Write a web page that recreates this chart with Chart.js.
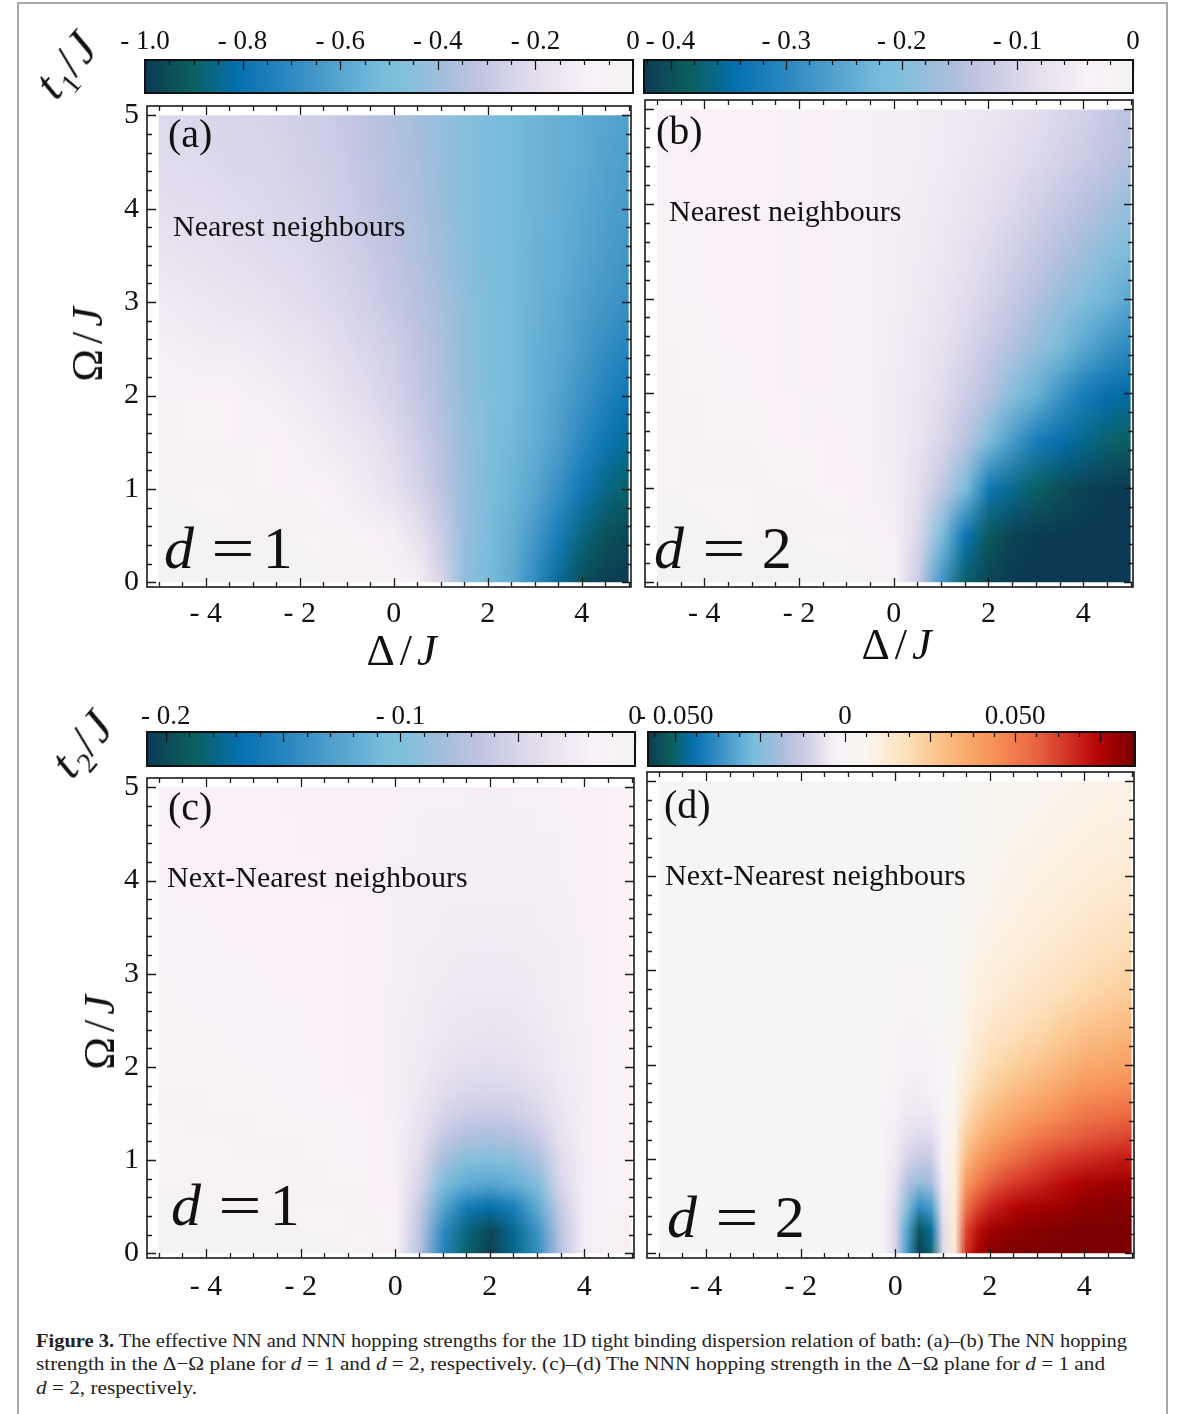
<!DOCTYPE html>
<html>
<head>
<meta charset="utf-8">
<title>Effective NN and NNN hopping strengths</title>
<script src="https://cdn.jsdelivr.net/npm/chart.js@4.4.1/dist/chart.umd.min.js"></script>
<style>
  body { margin: 0; background: #fff; }
  #fig { position: relative; width: 1182px; height: 1414px; overflow: hidden;
         font-family: 'Liberation Serif', 'Times New Roman', serif; color: #111; }
  #border { position: absolute; left: 17px; top: 2px; width: 1147px; height: 1430px;
            border: 2px solid #a8a8a8; }
  .t { position: absolute; white-space: nowrap; line-height: 1; transform: translateY(-50%); }
  .c { position: absolute; white-space: nowrap; line-height: 1; transform: translate(-50%, -50%); }
  .v { transform: translate(-50%, -50%) rotate(-90deg); }
  .d45 { transform: translate(-50%, -50%) rotate(-50deg); }
  .sym { font-size: 44px; letter-spacing: 5px; }
  sub { font-size: 0.6em; vertical-align: -0.3em; letter-spacing: 0; }
  .eq { display: inline-block; transform: scaleX(1.28); }
  .eq1 { margin: 0 13px 0 22px; }
  .eq2 { margin: 0 21px 0 23px; }
  .cap { position: absolute; left: 36px; font-size: 19px; line-height: 1; white-space: nowrap;
         transform-origin: 0 50%; color: #222; }
</style>
</head>
<body>
<div id="fig">
  <div id="border"></div>
  <div id="plots"></div>

  <div class="c d45 sym" style="left:69px;top:66px;font-size:48px;letter-spacing:3px"><i>t</i><sub>1</sub>/<i>J</i></div>
  <div class="c d45 sym" style="left:85px;top:745px;font-size:48px;letter-spacing:3px"><i>t</i><sub>2</sub>/<i>J</i></div>

  <div class="c v sym" style="left:88px;top:342px">Ω/<i>J</i></div>
  <div class="c v sym" style="left:100px;top:1030px">Ω/<i>J</i></div>
  <div class="c sym" style="left:404px;top:651px">Δ/<i>J</i></div>
  <div class="c sym" style="left:899px;top:645px">Δ/<i>J</i></div>

  <div class="t" style="left:168px;top:134px;font-size:40px">(a)</div>
  <div class="t" style="left:656px;top:131px;font-size:40px">(b)</div>
  <div class="t" style="left:168px;top:807px;font-size:40px">(c)</div>
  <div class="t" style="left:664px;top:805px;font-size:40px">(d)</div>

  <div class="t" style="left:173px;top:226px;font-size:30px">Nearest neighbours</div>
  <div class="t" style="left:669px;top:211px;font-size:30px">Nearest neighbours</div>
  <div class="t" style="left:167px;top:877px;font-size:30px">Next-Nearest neighbours</div>
  <div class="t" style="left:665px;top:875px;font-size:30px">Next-Nearest neighbours</div>

  <div class="t" style="left:164px;top:548px;font-size:60px"><i>d</i><span class="eq eq1">=</span>1</div>
  <div class="t" style="left:654px;top:548px;font-size:60px"><i>d</i><span class="eq eq2">=</span>2</div>
  <div class="t" style="left:171px;top:1205px;font-size:60px"><i>d</i><span class="eq eq1">=</span>1</div>
  <div class="t" style="left:667px;top:1217px;font-size:60px"><i>d</i><span class="eq eq2">=</span>2</div>

  <div class="cap" data-w="1091" style="top:1340px"><b>Figure 3.</b> The effective NN and NNN hopping strengths for the 1D tight binding dispersion relation of bath: (a)–(b) The NN hopping</div>
  <div class="cap" data-w="1069" style="top:1363px">strength in the Δ−Ω plane for <i>d</i> = 1 and <i>d</i> = 2, respectively. (c)–(d) The NNN hopping strength in the Δ−Ω plane for <i>d</i> = 1 and</div>
  <div class="cap" data-w="161" style="top:1387px"><i>d</i> = 2, respectively.</div>
</div>

<script>
// sample grid: detuning Δ/J across, Rabi frequency Ω/J up
const deltaCoarse = [-5,-4.5,-4,-3.5,-3,-2.5,-2,-1.5,-1,-0.5,0,0.5,1,1.5,2,2.5,3,3.5,4,4.5,5];
const deltaFine = [-5,-4.75,-4.5,-4.25,-4,-3.75,-3.5,-3.25,-3,-2.75,-2.5,-2.25,-2,-1.75,-1.5,-1.25,-1,-0.75,-0.5,-0.25,
                   0,0.25,0.5,0.75,1,1.25,1.5,1.75,2,2.25,2.5,2.75,3,3.25,3.5,3.75,4,4.25,4.5,4.75,5];
const omegaCoarse = [0,0.5,1,1.5,2,2.5,3,3.5,4,4.5,5];
const omegaFine = [0,0.25,0.5,0.75,1,1.25,1.5,1.75,2,2.25,2.5,2.75,3,3.25,3.5,3.75,4,4.25,4.5,4.75,5];

const deltaTicks = [-4,-2,0,2,4];
const omegaTicks = [0,1,2,3,4,5];

// colour-key ranges and labelled values
const rangeA = [-1.0, 0];
const rangeB = [-0.423, 0];
const rangeC = [-0.208, 0];
const rangeD = [-0.058, 0.0853];
const keyTicksA = [-1.0,-0.8,-0.6,-0.4,-0.2,0];
const keyTicksB = [-0.4,-0.3,-0.2,-0.1,0];
const keyTicksC = [-0.2,-0.1,0];
const keyTicksD = [-0.05,0,0.05];

// (a) t1/J, d = 1 — one row per Ω/J in omegaCoarse
const t1d1 = [
  [-0.02,-0.02,-0.02,-0.02,-0.02,-0.03,-0.03,-0.03,-0.04,-0.04,-0.05,-0.1,-0.24,-0.44,-0.51,-0.58,-0.7,-0.84,-0.95,-0.99,-1.0],
  [-0.03,-0.03,-0.03,-0.03,-0.04,-0.04,-0.05,-0.06,-0.07,-0.09,-0.11,-0.17,-0.28,-0.42,-0.5,-0.56,-0.65,-0.76,-0.87,-0.94,-0.97],
  [-0.05,-0.05,-0.06,-0.06,-0.07,-0.07,-0.08,-0.09,-0.11,-0.14,-0.18,-0.24,-0.32,-0.42,-0.49,-0.54,-0.6,-0.68,-0.78,-0.86,-0.9],
  [-0.06,-0.07,-0.07,-0.08,-0.08,-0.09,-0.1,-0.12,-0.14,-0.17,-0.21,-0.27,-0.34,-0.42,-0.48,-0.53,-0.57,-0.63,-0.71,-0.79,-0.84],
  [-0.08,-0.08,-0.09,-0.09,-0.1,-0.11,-0.13,-0.15,-0.18,-0.21,-0.25,-0.3,-0.36,-0.43,-0.48,-0.52,-0.56,-0.61,-0.67,-0.73,-0.79],
  [-0.1,-0.11,-0.12,-0.12,-0.13,-0.15,-0.16,-0.18,-0.21,-0.24,-0.27,-0.32,-0.37,-0.44,-0.49,-0.52,-0.56,-0.59,-0.64,-0.69,-0.73],
  [-0.13,-0.14,-0.15,-0.16,-0.17,-0.18,-0.2,-0.22,-0.24,-0.27,-0.3,-0.34,-0.38,-0.44,-0.49,-0.52,-0.55,-0.58,-0.62,-0.65,-0.68],
  [-0.16,-0.17,-0.18,-0.19,-0.2,-0.21,-0.22,-0.24,-0.26,-0.29,-0.32,-0.36,-0.4,-0.45,-0.5,-0.52,-0.55,-0.57,-0.6,-0.63,-0.66],
  [-0.19,-0.2,-0.2,-0.21,-0.22,-0.23,-0.24,-0.26,-0.28,-0.31,-0.34,-0.37,-0.41,-0.46,-0.5,-0.52,-0.54,-0.56,-0.59,-0.62,-0.64],
  [-0.21,-0.21,-0.22,-0.23,-0.23,-0.24,-0.26,-0.27,-0.29,-0.32,-0.35,-0.38,-0.42,-0.46,-0.5,-0.52,-0.54,-0.56,-0.58,-0.61,-0.63],
  [-0.22,-0.22,-0.23,-0.23,-0.24,-0.25,-0.27,-0.28,-0.3,-0.33,-0.36,-0.39,-0.42,-0.46,-0.5,-0.52,-0.54,-0.56,-0.58,-0.6,-0.62]
];

// (b) t1/J, d = 2 — rows over omegaCoarse
const t1d2 = [
  [-0.002,-0.002,-0.002,-0.003,-0.003,-0.004,-0.004,-0.005,-0.007,-0.012,-0.035,-0.12,-0.28,-0.38,-0.415,-0.423,-0.423,-0.423,-0.423,-0.423,-0.423],
  [-0.01,-0.012,-0.014,-0.016,-0.018,-0.02,-0.022,-0.025,-0.028,-0.033,-0.043,-0.095,-0.21,-0.335,-0.39,-0.414,-0.421,-0.423,-0.423,-0.423,-0.423],
  [-0.02,-0.022,-0.024,-0.026,-0.028,-0.03,-0.033,-0.035,-0.038,-0.042,-0.05,-0.08,-0.13,-0.21,-0.33,-0.36,-0.38,-0.4,-0.415,-0.421,-0.423],
  [-0.025,-0.027,-0.029,-0.031,-0.033,-0.035,-0.037,-0.039,-0.041,-0.043,-0.052,-0.07,-0.1,-0.14,-0.21,-0.27,-0.32,-0.345,-0.36,-0.375,-0.385],
  [-0.028,-0.03,-0.032,-0.034,-0.036,-0.038,-0.039,-0.04,-0.042,-0.044,-0.052,-0.066,-0.085,-0.115,-0.145,-0.195,-0.235,-0.28,-0.32,-0.343,-0.352],
  [-0.03,-0.032,-0.034,-0.036,-0.037,-0.039,-0.04,-0.041,-0.042,-0.044,-0.05,-0.06,-0.076,-0.098,-0.124,-0.15,-0.18,-0.215,-0.25,-0.28,-0.3],
  [-0.032,-0.034,-0.035,-0.037,-0.038,-0.039,-0.04,-0.041,-0.042,-0.043,-0.048,-0.056,-0.07,-0.086,-0.104,-0.126,-0.15,-0.175,-0.2,-0.228,-0.253],
  [-0.033,-0.034,-0.036,-0.037,-0.038,-0.039,-0.04,-0.041,-0.042,-0.043,-0.047,-0.054,-0.064,-0.077,-0.092,-0.11,-0.128,-0.148,-0.168,-0.19,-0.21],
  [-0.034,-0.035,-0.036,-0.037,-0.038,-0.039,-0.04,-0.041,-0.042,-0.043,-0.046,-0.051,-0.059,-0.069,-0.081,-0.095,-0.11,-0.126,-0.143,-0.16,-0.178],
  [-0.034,-0.035,-0.036,-0.037,-0.038,-0.039,-0.04,-0.041,-0.042,-0.043,-0.045,-0.049,-0.055,-0.062,-0.071,-0.082,-0.094,-0.107,-0.12,-0.134,-0.15],
  [-0.035,-0.035,-0.036,-0.037,-0.038,-0.039,-0.04,-0.04,-0.041,-0.042,-0.044,-0.047,-0.052,-0.058,-0.065,-0.074,-0.084,-0.096,-0.11,-0.125,-0.142]
];

// (c) t2/J, d = 1 — rows over omegaFine, columns over deltaCoarse
const t2d1 = [
  [-0.002,-0.002,-0.003,-0.003,-0.004,-0.004,-0.005,-0.006,-0.008,-0.011,-0.017,-0.07,-0.15,-0.185,-0.205,-0.178,-0.143,-0.068,-0.022,-0.015,-0.013],
  [-0.004,-0.004,-0.005,-0.005,-0.006,-0.007,-0.008,-0.009,-0.011,-0.013,-0.018,-0.066,-0.145,-0.18,-0.2,-0.175,-0.138,-0.065,-0.022,-0.016,-0.014],
  [-0.007,-0.007,-0.008,-0.009,-0.01,-0.011,-0.012,-0.013,-0.014,-0.016,-0.019,-0.06,-0.125,-0.16,-0.17,-0.155,-0.12,-0.058,-0.022,-0.017,-0.015],
  [-0.009,-0.01,-0.011,-0.012,-0.012,-0.013,-0.014,-0.015,-0.016,-0.017,-0.02,-0.05,-0.1,-0.12,-0.125,-0.118,-0.098,-0.048,-0.022,-0.017,-0.016],
  [-0.011,-0.012,-0.013,-0.013,-0.014,-0.014,-0.015,-0.016,-0.017,-0.018,-0.021,-0.043,-0.08,-0.097,-0.1,-0.095,-0.078,-0.042,-0.022,-0.018,-0.016],
  [-0.013,-0.013,-0.014,-0.014,-0.015,-0.015,-0.016,-0.016,-0.017,-0.019,-0.021,-0.037,-0.062,-0.075,-0.078,-0.074,-0.06,-0.036,-0.022,-0.018,-0.017],
  [-0.014,-0.014,-0.015,-0.015,-0.016,-0.016,-0.017,-0.017,-0.018,-0.019,-0.022,-0.033,-0.05,-0.058,-0.06,-0.057,-0.048,-0.032,-0.022,-0.018,-0.017],
  [-0.015,-0.015,-0.016,-0.016,-0.016,-0.017,-0.017,-0.018,-0.018,-0.019,-0.022,-0.03,-0.042,-0.048,-0.049,-0.047,-0.04,-0.029,-0.022,-0.018,-0.017],
  [-0.016,-0.016,-0.016,-0.016,-0.017,-0.017,-0.017,-0.018,-0.018,-0.02,-0.022,-0.028,-0.036,-0.04,-0.041,-0.039,-0.034,-0.027,-0.022,-0.019,-0.017],
  [-0.016,-0.016,-0.016,-0.017,-0.017,-0.017,-0.018,-0.018,-0.019,-0.02,-0.022,-0.027,-0.032,-0.035,-0.036,-0.035,-0.031,-0.026,-0.022,-0.019,-0.017],
  [-0.016,-0.016,-0.017,-0.017,-0.017,-0.017,-0.018,-0.018,-0.019,-0.02,-0.022,-0.026,-0.03,-0.032,-0.033,-0.032,-0.029,-0.025,-0.021,-0.019,-0.018],
  [-0.016,-0.017,-0.017,-0.017,-0.017,-0.018,-0.018,-0.018,-0.019,-0.02,-0.022,-0.025,-0.028,-0.03,-0.03,-0.03,-0.027,-0.024,-0.021,-0.019,-0.018],
  [-0.017,-0.017,-0.017,-0.017,-0.018,-0.018,-0.018,-0.019,-0.019,-0.02,-0.021,-0.024,-0.026,-0.028,-0.028,-0.028,-0.026,-0.023,-0.021,-0.019,-0.018],
  [-0.017,-0.017,-0.017,-0.018,-0.018,-0.018,-0.018,-0.019,-0.019,-0.02,-0.021,-0.023,-0.025,-0.026,-0.027,-0.026,-0.025,-0.023,-0.021,-0.019,-0.018],
  [-0.017,-0.017,-0.018,-0.018,-0.018,-0.018,-0.019,-0.019,-0.019,-0.02,-0.021,-0.022,-0.024,-0.025,-0.025,-0.025,-0.024,-0.022,-0.02,-0.019,-0.018],
  [-0.017,-0.018,-0.018,-0.018,-0.018,-0.018,-0.019,-0.019,-0.019,-0.02,-0.021,-0.022,-0.023,-0.024,-0.024,-0.024,-0.023,-0.022,-0.02,-0.019,-0.018],
  [-0.018,-0.018,-0.018,-0.018,-0.018,-0.019,-0.019,-0.019,-0.02,-0.02,-0.021,-0.022,-0.023,-0.023,-0.023,-0.023,-0.022,-0.021,-0.02,-0.019,-0.018],
  [-0.018,-0.018,-0.018,-0.018,-0.019,-0.019,-0.019,-0.019,-0.02,-0.02,-0.021,-0.021,-0.022,-0.022,-0.022,-0.022,-0.022,-0.021,-0.02,-0.019,-0.018],
  [-0.018,-0.018,-0.018,-0.019,-0.019,-0.019,-0.019,-0.02,-0.02,-0.02,-0.021,-0.021,-0.022,-0.022,-0.022,-0.022,-0.021,-0.021,-0.02,-0.019,-0.018],
  [-0.018,-0.018,-0.019,-0.019,-0.019,-0.019,-0.019,-0.02,-0.02,-0.02,-0.02,-0.021,-0.021,-0.021,-0.022,-0.021,-0.021,-0.02,-0.02,-0.019,-0.018],
  [-0.018,-0.019,-0.019,-0.019,-0.019,-0.019,-0.02,-0.02,-0.02,-0.02,-0.02,-0.021,-0.021,-0.021,-0.021,-0.021,-0.021,-0.02,-0.02,-0.019,-0.018]
];

// (d) t2/J, d = 2 — rows over omegaFine, columns over deltaFine
const t2d2 = [
  [0,0,0,0,0,0,0,0,0,0,0,0,0,0,0,0,0,0, 0,-0.002,-0.01,-0.035,-0.057,-0.05,-0.008, 0.012,0.066,0.078,0.083,0.084,0.085,0.085,0.085,0.085,0.085,0.085,0.085,0.085,0.085,0.085,0.085],
  [0,0,0,0,0,0,0,0,0,0,0,0,0,0,0,0,0,0, 0,-0.002,-0.01,-0.033,-0.053,-0.046,-0.008, 0.012,0.062,0.072,0.078,0.08,0.081,0.082,0.083,0.084,0.084,0.085,0.085,0.085,0.085,0.085,0.085],
  [0,0,0,0,0,0,0,0,0,0,0,0,0,0,0,0,0,0, -0.001,-0.002,-0.009,-0.025,-0.038,-0.034,-0.006, 0.012,0.052,0.062,0.068,0.071,0.074,0.076,0.077,0.078,0.079,0.08,0.082,0.082,0.083,0.083,0.083],
  [0,0,0,0,0,0,0,0,0,0,0,0,0,0,0,0,0,0, -0.001,-0.002,-0.007,-0.017,-0.022,-0.02,-0.004, 0.011,0.041,0.05,0.057,0.061,0.064,0.066,0.068,0.07,0.072,0.074,0.076,0.077,0.078,0.079,0.079],
  [0,0,0,0,0,0,0,0,0,0,0,0,0,0,0,0,0,0, -0.001,-0.002,-0.005,-0.01,-0.013,-0.012,-0.003, 0.01,0.031,0.04,0.046,0.05,0.054,0.057,0.06,0.062,0.064,0.065,0.067,0.068,0.069,0.07,0.07],
  [0,0,0,0,0,0,0,0,0,0,0,0,0,0,0,0,0,0, -0.001,-0.002,-0.004,-0.007,-0.008,-0.008,-0.002, 0.008,0.024,0.031,0.036,0.04,0.044,0.047,0.05,0.052,0.054,0.056,0.058,0.059,0.06,0.061,0.062],
  [0,0,0,0,0,0,0,0,0,0,0,0,0,0,0,0,0,0, -0.001,-0.002,-0.003,-0.005,-0.005,-0.005,-0.001, 0.006,0.018,0.025,0.029,0.032,0.035,0.038,0.04,0.043,0.045,0.048,0.05,0.051,0.052,0.053,0.054],
  [0,0,0,0,0,0,0,0,0,0,0,0,0,0,0,0,0,0, -0.001,-0.0015,-0.0025,-0.004,-0.004,-0.003,0, 0.005,0.014,0.019,0.023,0.026,0.029,0.031,0.033,0.035,0.037,0.04,0.042,0.043,0.044,0.045,0.046],
  [0,0,0,0,0,0,0,0,0,0,0,0,0,0,0,0,0,0, -0.001,-0.0015,-0.002,-0.003,-0.003,-0.003,0, 0.004,0.011,0.016,0.019,0.021,0.023,0.025,0.027,0.029,0.031,0.033,0.035,0.036,0.037,0.038,0.039],
  [0,0,0,0,0,0,0,0,0,0,0,0,0,0,0,0,0,0, -0.001,-0.001,-0.002,-0.0025,-0.0025,-0.002,0, 0.003,0.009,0.013,0.016,0.018,0.019,0.021,0.022,0.024,0.026,0.028,0.03,0.031,0.032,0.033,0.034],
  [0,0,0,0,0,0,0,0,0,0,0,0,0,0,0,0,0,0, -0.001,-0.001,-0.0015,-0.002,-0.002,-0.0015,0, 0.003,0.008,0.011,0.013,0.015,0.016,0.0175,0.019,0.02,0.022,0.0235,0.025,0.026,0.027,0.028,0.029],
  [0,0,0,0,0,0,0,0,0,0,0,0,0,0,0,0,0,0, 0,-0.001,-0.0015,-0.002,-0.002,-0.0015,0, 0.002,0.007,0.0095,0.011,0.0125,0.0135,0.015,0.016,0.017,0.018,0.0195,0.021,0.022,0.023,0.024,0.025],
  [0,0,0,0,0,0,0,0,0,0,0,0,0,0,0,0,0,0, 0,-0.001,-0.001,-0.0015,-0.0015,-0.001,0, 0.002,0.006,0.0085,0.01,0.011,0.012,0.013,0.014,0.015,0.016,0.017,0.018,0.019,0.02,0.021,0.022],
  [0,0,0,0,0,0,0,0,0,0,0,0,0,0,0,0,0,0, 0,0,-0.001,-0.001,-0.001,-0.001,0, 0.0015,0.0048,0.007,0.0085,0.0095,0.0102,0.011,0.012,0.013,0.014,0.015,0.016,0.017,0.0175,0.018,0.019],
  [0,0,0,0,0,0,0,0,0,0,0,0,0,0,0,0,0,0, 0,0,-0.001,-0.001,-0.001,-0.0005,0, 0.001,0.0042,0.0058,0.0072,0.0083,0.009,0.01,0.011,0.0115,0.0125,0.013,0.014,0.015,0.0155,0.016,0.017],
  [0,0,0,0,0,0,0,0,0,0,0,0,0,0,0,0,0,0, 0,0,-0.0005,-0.001,-0.001,-0.0005,0, 0.001,0.0037,0.005,0.0062,0.0074,0.008,0.0088,0.0095,0.01,0.011,0.0115,0.012,0.013,0.0135,0.014,0.015],
  [0,0,0,0,0,0,0,0,0,0,0,0,0,0,0,0,0,0, 0,0,-0.0005,-0.0005,-0.0005,0,0, 0.001,0.0032,0.0045,0.0052,0.0064,0.0072,0.0078,0.0085,0.009,0.0097,0.0103,0.011,0.0115,0.012,0.0125,0.013],
  [0,0,0,0,0,0,0,0,0,0,0,0,0,0,0,0,0,0, 0,0,0,-0.0005,-0.0005,0,0, 0.001,0.0028,0.004,0.0047,0.0058,0.0065,0.007,0.0075,0.008,0.0087,0.009,0.0095,0.01,0.0105,0.011,0.012],
  [0,0,0,0,0,0,0,0,0,0,0,0,0,0,0,0,0,0, 0,0,0,0,0,0,0, 0.0005,0.0024,0.0035,0.0043,0.0052,0.0058,0.0062,0.0065,0.007,0.0077,0.008,0.0085,0.009,0.0093,0.0097,0.01],
  [0,0,0,0,0,0,0,0,0,0,0,0,0,0,0,0,0,0, 0,0,0,0,0,0,0, 0.0005,0.0022,0.003,0.004,0.0048,0.0053,0.0057,0.006,0.0063,0.0068,0.0071,0.0075,0.008,0.0083,0.0087,0.009],
  [0,0,0,0,0,0,0,0,0,0,0,0,0,0,0,0,0,0, 0,0,0,0,0,0,0, 0.0005,0.002,0.0028,0.0037,0.0044,0.0049,0.0052,0.0055,0.0058,0.006,0.0063,0.0065,0.007,0.0073,0.0077,0.008]
];

// colour maps: [position along key, colour]
const bluesMap = [
  [0, '#0c3a55'], [0.09, '#0b5e5a'], [0.19, '#0570b0'], [0.28, '#2685bd'], [0.38, '#509fcd'],
  [0.48, '#76bcda'], [0.53, '#82bfdc'], [0.6, '#a0bddc'], [0.68, '#bfc4e1'], [0.76, '#d9d5ea'],
  [0.84, '#ece5f1'], [0.91, '#f9f1f7'], [1, '#f3f3f3']
];
const divergingMap = [
  [0, '#0c3a55'], [0.045, '#0b5e5a'], [0.095, '#0570b0'], [0.15, '#3a92c5'], [0.215, '#78bddb'],
  [0.27, '#a6bddc'], [0.32, '#cccbe5'], [0.36, '#e9e3f0'], [0.385, '#f8f1f7'], [0.405, '#f5f5f5'],
  [0.44, '#f9f5ef'], [0.48, '#fdeedb'], [0.53, '#fde0bc'], [0.58, '#fccb95'], [0.645, '#faad70'],
  [0.72, '#f78d54'], [0.8, '#e8623f'], [0.87, '#cf2c22'], [0.92, '#b80505'], [0.96, '#990000'], [1, '#7a0000']
];

Chart.defaults.font.family = "'Liberation Serif', 'Times New Roman', serif";
Chart.defaults.color = '#111';
const axisFont = { size: 30 };
const keyFont = { size: 27 };

function hexRgb(h) {
  return [1, 3, 5].map(i => parseInt(h.slice(i, i + 2), 16));
}

function colourAt(t, map) {
  t = Math.max(0, Math.min(1, t));
  for (let k = 1; k < map.length; k++) {
    if (t <= map[k][0]) {
      const a = hexRgb(map[k - 1][1]), b = hexRgb(map[k][1]);
      const u = (t - map[k - 1][0]) / (map[k][0] - map[k - 1][0]);
      return a.map((c, i) => Math.round(c + (b[i] - c) * u));
    }
  }
  return hexRgb(map[map.length - 1][1]);
}

const signed = dec => v => {
  if (Math.abs(v) < 1e-9) return '0';
  return (v < 0 ? '- ' : '') + Math.abs(v).toFixed(dec);
};

function stepValues(min, max, step) {
  const out = [];
  for (let k = Math.ceil(min / step - 1e-9); k * step <= max + 1e-9; k++) out.push(k * step);
  return out;
}
const isMultiple = (v, m) => Math.abs(v / m - Math.round(v / m)) < 1e-6;

function addCanvas(left, top, w, h) {
  const c = document.createElement('canvas');
  c.width = w; c.height = h;
  c.style.cssText = `position:absolute;left:${left}px;top:${top}px;width:${w}px;height:${h}px`;
  document.getElementById('plots').appendChild(c);
  return c;
}

// density layer: one texel per sample, stretched over the sample cells
function heatLayer(xs, ys, range, map) {
  return {
    id: 'heatLayer',
    beforeDatasetsDraw(chart) {
      const { ctx, scales: { x, y } } = chart;
      const pts = chart.data.datasets[0].data;
      const nx = xs.length, ny = ys.length;
      const off = document.createElement('canvas');
      off.width = nx; off.height = ny;
      const octx = off.getContext('2d');
      const img = octx.createImageData(nx, ny);
      pts.forEach((p, k) => {
        const i = k % nx, j = Math.floor(k / nx);
        const c = colourAt((p.v - range[0]) / (range[1] - range[0]), map);
        const o = ((ny - 1 - j) * nx + i) * 4;
        img.data[o] = c[0]; img.data[o + 1] = c[1]; img.data[o + 2] = c[2]; img.data[o + 3] = 255;
      });
      octx.putImageData(img, 0, 0);
      const hx = (xs[1] - xs[0]) / 2, hy = (ys[1] - ys[0]) / 2;
      const l = x.getPixelForValue(xs[0] - hx), r = x.getPixelForValue(xs[nx - 1] + hx);
      const t = y.getPixelForValue(ys[ny - 1] + hy), b = y.getPixelForValue(ys[0] - hy);
      const cl = x.getPixelForValue(xs[0]), cr = x.getPixelForValue(xs[nx - 1]);
      const ct = y.getPixelForValue(ys[ny - 1]), cb = y.getPixelForValue(ys[0]);
      ctx.save();
      ctx.beginPath();
      ctx.rect(cl, ct, cr - cl, cb - ct);
      ctx.clip();
      ctx.imageSmoothingEnabled = true;
      ctx.drawImage(off, l, t, r - l, b - t);
      ctx.restore();
    }
  };
}

// frame with inward ticks on all four sides
function panelFrame() {
  return {
    id: 'panelFrame',
    afterDraw(chart) {
      const { ctx, chartArea: a, scales: { x, y } } = chart;
      ctx.save();
      ctx.strokeStyle = '#1a1a1a';
      ctx.lineWidth = 1.6;
      ctx.strokeRect(a.left, a.top, a.right - a.left, a.bottom - a.top);
      ctx.lineWidth = 1.3;
      ctx.beginPath();
      stepValues(x.min, x.max, 0.5).forEach(v => {
        const p = Math.round(x.getPixelForValue(v)) + 0.5;
        const len = isMultiple(v, 2) ? 9 : 5;
        ctx.moveTo(p, a.bottom); ctx.lineTo(p, a.bottom - len);
        ctx.moveTo(p, a.top); ctx.lineTo(p, a.top + len);
      });
      stepValues(y.min, y.max, 0.2).forEach(v => {
        const p = Math.round(y.getPixelForValue(v)) + 0.5;
        const len = isMultiple(v, 1) ? 9 : 5;
        ctx.moveTo(a.left, p); ctx.lineTo(a.left + len, p);
        ctx.moveTo(a.right, p); ctx.lineTo(a.right - len, p);
      });
      ctx.stroke();
      ctx.restore();
    }
  };
}

function heatPanel(frame, xs, ys, rows, range, map, showY, xPad) {
  rows.forEach((row, j) => {
    if (row.length !== xs.length) throw new Error(`row ${j} has ${row.length} values`);
  });
  if (rows.length !== ys.length) throw new Error(`grid has ${rows.length} rows`);
  const YW = 70, XH = 60, PT = 20, PR = 12;
  const canvas = addCanvas(frame.l - YW, frame.t - PT, frame.r - frame.l + YW + PR, frame.b - frame.t + PT + XH);
  const points = [];
  rows.forEach((row, j) => row.forEach((v, i) => points.push({ x: xs[i], y: ys[j], v })));
  return new Chart(canvas, {
    type: 'scatter',
    data: { datasets: [{ data: points, pointRadius: 0, pointHoverRadius: 0 }] },
    options: {
      responsive: false, animation: false, devicePixelRatio: 1, events: [],
      layout: { padding: { top: PT, right: PR, left: 0, bottom: 0 } },
      plugins: { legend: { display: false }, tooltip: { enabled: false } },
      scales: {
        x: {
          type: 'linear', min: -5.25, max: 5.05,
          grid: { display: false, drawTicks: false }, border: { display: false },
          afterBuildTicks: axis => { axis.ticks = deltaTicks.map(value => ({ value })); },
          afterFit: axis => { axis.height = XH; },
          ticks: { padding: xPad, font: axisFont, color: '#111', maxRotation: 0, autoSkip: false, callback: signed(0) }
        },
        y: {
          type: 'linear', min: -0.05, max: 5.1,
          grid: { display: false, drawTicks: false }, border: { display: false },
          afterBuildTicks: axis => { axis.ticks = omegaTicks.map(value => ({ value })); },
          afterFit: axis => { axis.width = YW; },
          ticks: { display: showY, padding: 8, font: axisFont, color: '#111', autoSkip: false, callback: signed(0) }
        }
      }
    },
    plugins: [heatLayer(xs, ys, range, map), panelFrame()]
  });
}

// colour key: gradient bar with a labelled axis on top
function keyLayer(range, map, minor, major) {
  return {
    id: 'keyLayer',
    afterDraw(chart) {
      const { ctx, chartArea: a, scales: { x } } = chart;
      const x0 = x.getPixelForValue(range[0]), x1 = x.getPixelForValue(range[1]);
      const g = ctx.createLinearGradient(x0, 0, x1, 0);
      map.forEach(([f, c]) => g.addColorStop(f, c));
      ctx.save();
      ctx.fillStyle = g;
      ctx.fillRect(x0, a.top, x1 - x0, a.bottom - a.top);
      ctx.strokeStyle = '#111';
      ctx.lineWidth = 1.2;
      ctx.beginPath();
      stepValues(range[0], range[1], minor).forEach(v => {
        const p = Math.round(x.getPixelForValue(v)) + 0.5;
        ctx.moveTo(p, a.top);
        ctx.lineTo(p, a.top + (isMultiple(v, major) ? 10 : 5));
      });
      ctx.stroke();
      ctx.lineWidth = 2;
      ctx.strokeRect(a.left, a.top, a.right - a.left, a.bottom - a.top);
      ctx.restore();
    }
  };
}

function colourKey(bar, range, labels, dec, minor, major, map, pad) {
  const PX = 45, TH = 50, PB = 4;
  const canvas = addCanvas(bar.l - PX, bar.t - TH, bar.r - bar.l + 2 * PX, bar.b - bar.t + TH + PB);
  return new Chart(canvas, {
    type: 'scatter',
    data: { datasets: [] },
    options: {
      responsive: false, animation: false, devicePixelRatio: 1, events: [],
      layout: { padding: { left: PX, right: PX, top: 0, bottom: PB } },
      plugins: { legend: { display: false }, tooltip: { enabled: false } },
      scales: {
        x: {
          type: 'linear', position: 'top', min: range[0], max: range[1],
          grid: { display: false, drawTicks: false }, border: { display: false },
          afterBuildTicks: axis => { axis.ticks = labels.map(value => ({ value })); },
          afterFit: axis => { axis.height = TH; },
          ticks: { padding: pad, font: keyFont, color: '#111', maxRotation: 0, autoSkip: false, callback: signed(dec) }
        },
        y: { display: false, min: 0, max: 1 }
      }
    },
    plugins: [keyLayer(range, map, minor, major)]
  });
}

colourKey({ l: 145, t: 60, r: 633, b: 93 }, rangeA, keyTicksA, 1, 0.05, 0.2, bluesMap, 2);
colourKey({ l: 644, t: 60, r: 1133, b: 93 }, rangeB, keyTicksB, 1, 0.02, 0.1, bluesMap, 2);
colourKey({ l: 147, t: 732, r: 635, b: 766 }, rangeC, keyTicksC, 1, 0.01, 0.05, bluesMap, -1);
colourKey({ l: 648, t: 732, r: 1135, b: 766 }, rangeD, keyTicksD, 3, 0.00625, 0.025, divergingMap, -1);

heatPanel({ l: 147, t: 100, r: 631, b: 587 }, deltaCoarse, omegaCoarse, t1d1, rangeA, bluesMap, true, 9);
heatPanel({ l: 645, t: 100, r: 1133, b: 587 }, deltaCoarse, omegaCoarse, t1d2, rangeB, bluesMap, false, 9);
heatPanel({ l: 147, t: 772, r: 634, b: 1258 }, deltaCoarse, omegaFine, t2d1, rangeC, bluesMap, true, 11);
heatPanel({ l: 647, t: 772, r: 1134, b: 1258 }, deltaFine, omegaFine, t2d2, rangeD, divergingMap, false, 11);

// squeeze each caption line to its printed width
document.querySelectorAll('.cap').forEach(el => {
  const want = +el.dataset.w;
  const have = el.getBoundingClientRect().width;
  el.style.transform = `translateY(-50%) scaleX(${want / have})`;
});
</script>
</body>
</html>
